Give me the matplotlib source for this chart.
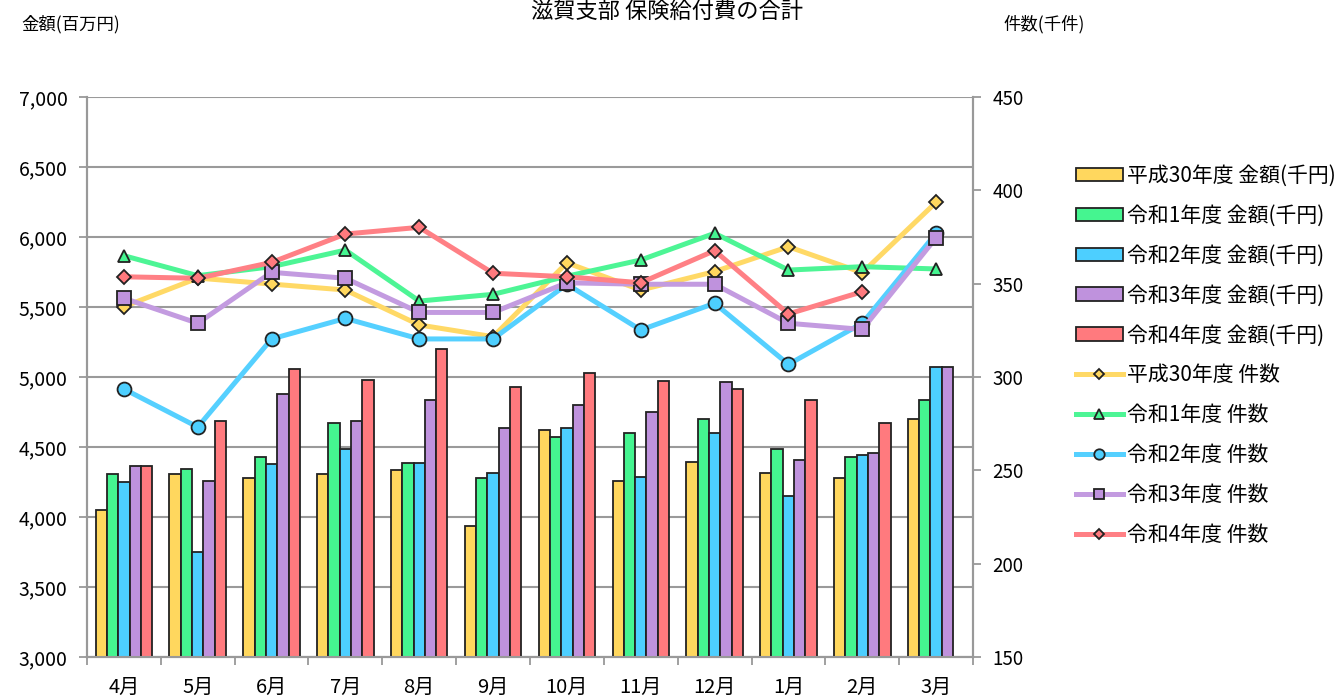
import numpy as np
import matplotlib.pyplot as plt

plt.rcParams['font.family'] = ['Noto Sans CJK JP', 'DejaVu Sans']

months = ['4月', '5月', '6月', '7月', '8月', '9月', '10月', '11月', '12月', '1月', '2月', '3月']
years = ['平成30年度', '令和1年度', '令和2年度', '令和3年度', '令和4年度']

# 金額 (百万円) - left axis bars
amt_h30 = [4050, 4305, 4281, 4305, 4333, 3938, 4621, 4255, 4395, 4317, 4281, 4698]
amt_r1 = [4305, 4343, 4431, 4674, 4383, 4281, 4569, 4598, 4698, 4483, 4431, 4838]
amt_r2 = [4252, 3748, 4379, 4483, 4383, 4317, 4633, 4288, 4598, 4152, 4443, 5071]
amt_r3 = [4367, 4257, 4876, 4686, 4838, 4633, 4800, 4748, 4962, 4407, 4460, 5071]
amt_r4 = [4367, 4686, 5057, 4979, 5200, 4926, 5029, 4971, 4912, 4838, 4674, np.nan]

# 件数 (千件) - right axis lines
cnt_h30 = [337.7, 353.0, 349.8, 346.6, 327.9, 321.6, 361.2, 346.6, 356.5, 369.8, 355.9, 393.6]
cnt_r1 = [365.0, 354.3, 359.1, 368.0, 340.7, 344.3, 354.0, 362.7, 377.0, 357.3, 359.1, 357.9]
cnt_r2 = [293.6, 273.2, 320.4, 331.4, 320.4, 320.4, 349.7, 325.2, 339.5, 306.8, 328.8, 377.0]
cnt_r3 = [342.2, 328.8, 356.1, 352.9, 334.6, 334.6, 350.5, 349.7, 349.7, 328.8, 325.5, 374.6]
cnt_r4 = [353.7, 352.9, 361.4, 376.6, 380.2, 355.6, 353.7, 350.5, 367.7, 333.8, 345.7, np.nan]

amounts = [amt_h30, amt_r1, amt_r2, amt_r3, amt_r4]
counts = [cnt_h30, cnt_r1, cnt_r2, cnt_r3, cnt_r4]
bar_colors = ['#FFD75E', '#45F590', '#4DCFFF', '#BF92DD', '#FF7A7E']
line_colors = ['#FFD966', '#4DF595', '#55D0FF', '#C39BE0', '#FF8085']
markers = ['D', '^', 'o', 's', 'D']
msizes = [7, 9, 10, 10, 7]

fig = plt.figure(figsize=(13.34, 6.98), dpi=100)
ax = fig.add_axes([0.0652, 0.0587, 0.6642, 0.8023])
ax2 = ax.twinx()

x = np.arange(len(months))
bw = 0.153
handles = []
for i in range(5):
    b = ax.bar(x + (i - 2) * bw, amounts[i], bw, color=bar_colors[i],
               edgecolor='#222222', linewidth=1.3, zorder=3,
               label=years[i] + ' 金額(千円)')
    handles.append(b)

for i in range(5):
    l, = ax2.plot(x, counts[i], color=line_colors[i], lw=3.6, zorder=3,
                  marker=markers[i], markersize=msizes[i],
                  markerfacecolor=bar_colors[i], markeredgecolor='#222222',
                  markeredgewidth=1.3, label=years[i] + ' 件数')
    handles.append(l)

ax.set_xlim(-0.5, 11.5)
ax.set_ylim(3000, 7000)
ax.set_yticks(np.arange(3000, 7001, 500))
ax.set_yticklabels([f'{v:,}' for v in range(3000, 7001, 500)])
ax2.set_ylim(150, 450)
ax2.set_yticks(np.arange(150, 451, 50))

ax.set_xticks(x)
ax.set_xticklabels(months)
ax.set_xticks(np.arange(-0.5, 12, 1), minor=True)
ax.tick_params(axis='x', which='major', length=0, labelsize=14.5, pad=14)
ax.tick_params(axis='x', which='minor', length=6, color='#999999', width=1.3)
ax.tick_params(axis='y', length=6, color='#999999', width=1.3, labelsize=14, pad=8)
ax2.tick_params(axis='y', length=6, color='#999999', width=1.3, labelsize=13.5, pad=8)

ax.yaxis.grid(True, color='#9a9a9a', lw=1.5, zorder=0)
ax.set_axisbelow(True)
for a in (ax, ax2):
    a.spines['top'].set_visible(False)
    for s in ('left', 'right', 'bottom'):
        a.spines[s].set_color('#999999')
        a.spines[s].set_linewidth(1.5)

fig.text(0.5, 0.999, '滋賀支部 保険給付費の合計', ha='center', va='top', fontsize=16)
fig.text(0.016, 0.965, '金額(百万円)', ha='left', va='center', fontsize=12.5)
fig.text(0.752, 0.965, '件数(千件)', ha='left', va='center', fontsize=12.5)

fig.legend(handles=handles, loc='upper left', bbox_to_anchor=(0.8, 0.776),
           frameon=False, fontsize=15, handlelength=2.3, handleheight=0.6,
           labelspacing=0.86, handletextpad=0.15, borderaxespad=0,
           markerscale=0.75)

fig.savefig('out.png', dpi=100)
